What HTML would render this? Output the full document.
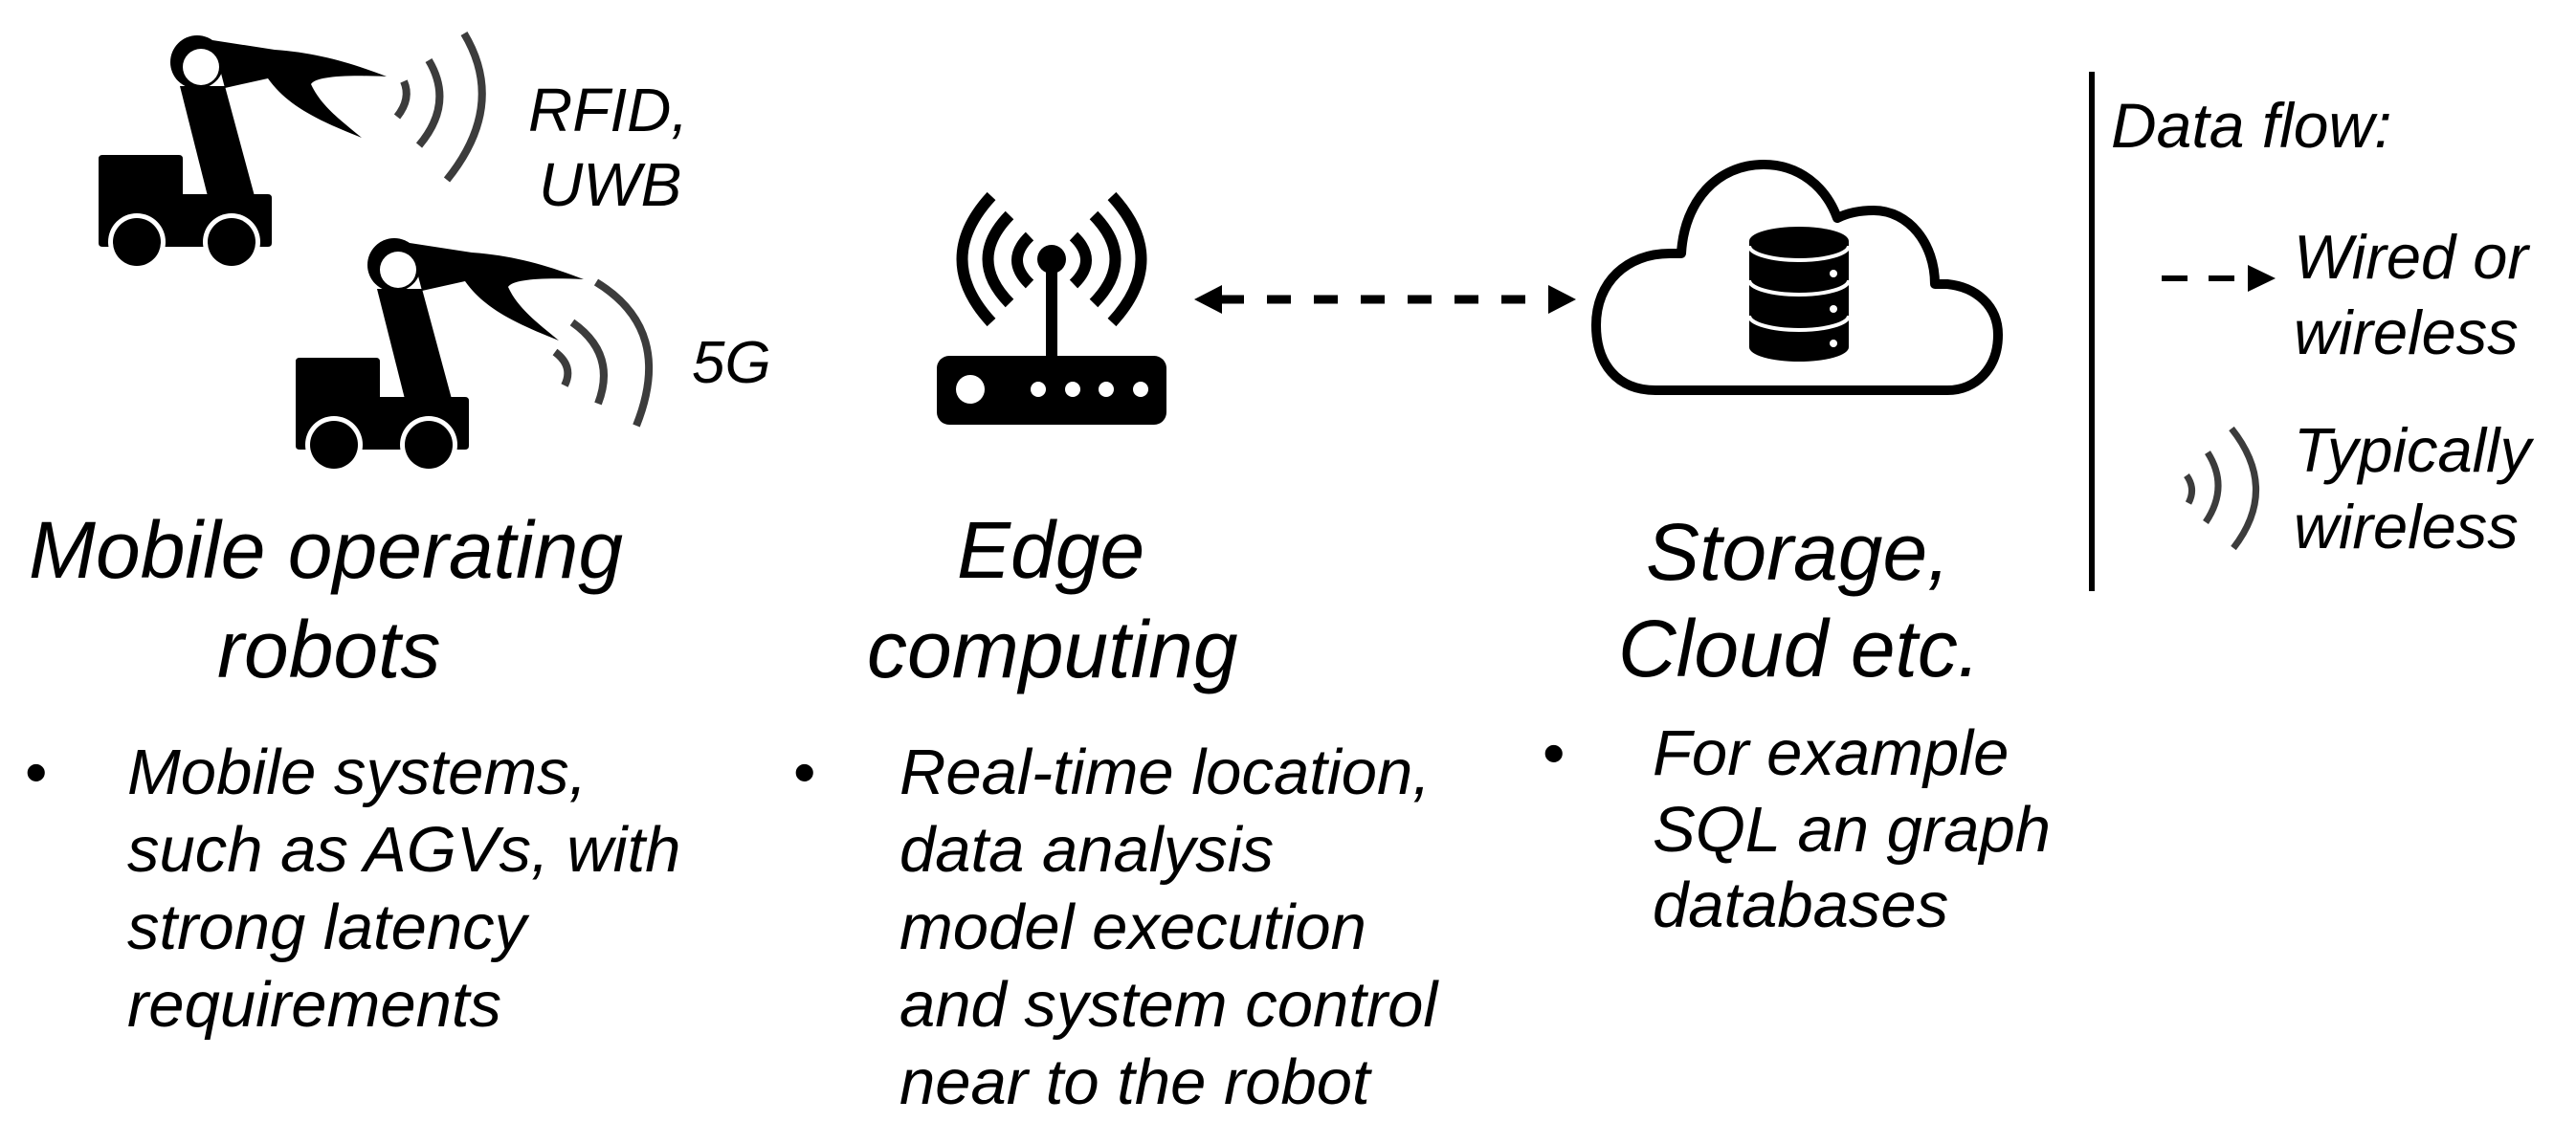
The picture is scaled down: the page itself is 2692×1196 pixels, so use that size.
<!DOCTYPE html>
<html><head><meta charset="utf-8">
<style>
html,body{margin:0;padding:0;background:#fff;}
svg{display:block;}
text{font-family:"Liberation Sans",Arial,sans-serif;font-style:italic;fill:#000;}
</style></head>
<body>
<svg width="2692" height="1196" viewBox="0 0 2692 1196" xmlns="http://www.w3.org/2000/svg">
<defs>
<g id="robot">
  <path d="M103,166 Q103,162 107,162 L187,162 Q191,162 191,166 L191,203 L280,203 Q284,203 284,207 L284,254 Q284,258 280,258 L107,258 Q103,258 103,254 Z" fill="#000"/>
  <circle cx="143" cy="253" r="30" fill="#fff"/>
  <circle cx="242" cy="253" r="30" fill="#fff"/>
  <circle cx="143" cy="253" r="25" fill="#000"/>
  <circle cx="242" cy="253" r="25" fill="#000"/>
  <polygon points="188,90 235,90 266,205 217,205" fill="#000"/>
  <path d="M222,42 L287,52 C330,55 365,65 404,80 C360,78 330,80 325,88 C335,110 355,125 378,144 C330,125 300,110 280,82 L235,92 Z" fill="#000"/>
  <circle cx="206" cy="65" r="28" fill="#000"/>
  <circle cx="210" cy="70" r="19" fill="#fff"/>
</g>
</defs>

<use href="#robot"/>
<use href="#robot" transform="translate(206,212)"/>

<g fill="none" stroke="#3c3c3c" stroke-width="8">
  <path d="M422,85 Q430,103 415,122"/>
  <path d="M448,63 Q475,108 438,152"/>
  <path d="M485,35 Q530,110 467,188"/>
  <path d="M580,368 Q600,383 590,403"/>
  <path d="M598,337 Q645,370 625,422"/>
  <path d="M623,295 Q705,345 665,445"/>
</g>
<text x="552" y="137" font-size="64">RFID,</text>
<text x="563" y="215" font-size="64">UWB</text>
<text x="723" y="400" font-size="62">5G</text>

<rect x="979" y="372" width="240" height="72" rx="13" fill="#000"/>
<circle cx="1014" cy="407" r="15" fill="#fff"/>
<circle cx="1085" cy="407" r="8" fill="#fff"/>
<circle cx="1121" cy="407" r="8" fill="#fff"/>
<circle cx="1156" cy="407" r="8" fill="#fff"/>
<circle cx="1192" cy="407" r="8" fill="#fff"/>
<rect x="1093" y="275" width="12" height="100" fill="#000"/>
<circle cx="1099" cy="271" r="15" fill="#000"/>
<g fill="none" stroke="#000" stroke-width="12">
  <path d="M1076,247 Q1050,272 1076,297"/>
  <path d="M1055,225 Q1010,271 1055,317"/>
  <path d="M1036,205 Q975,271 1036,337"/>
  <path d="M1122,247 Q1148,272 1122,297"/>
  <path d="M1143,225 Q1188,271 1143,317"/>
  <path d="M1162,205 Q1223,271 1162,337"/>
</g>

<line x1="1275" y1="313" x2="1620" y2="313" stroke="#000" stroke-width="9" stroke-dasharray="25,24"/>
<polygon points="1248,313 1277,298 1277,328" fill="#000"/>
<polygon points="1647,313 1618,298 1618,328" fill="#000"/>

<path d="M1730,408 C1690,408 1668,380 1668,340 C1668,295 1700,265 1745,265 L1757,265 C1760,210 1795,172 1843,172 C1880,172 1908,195 1920,228 C1932,222 1945,220 1958,220 C1995,220 2022,255 2022,297 L2035,297 C2065,300 2088,320 2088,350 C2088,385 2065,408 2035,408 Z" fill="#fff" stroke="#000" stroke-width="10" stroke-linejoin="round"/>
<path d="M1828,252 A52,15 0 0 1 1932,252 L1932,363 A52,15 0 0 1 1828,363 Z" fill="#000"/>
<g fill="none" stroke="#fff" stroke-width="4">
  <path d="M1828,257 A52,15 0 0 0 1932,257"/>
  <path d="M1828,293 A52,15 0 0 0 1932,293"/>
  <path d="M1828,330 A52,15 0 0 0 1932,330"/>
</g>
<circle cx="1916" cy="286" r="4" fill="#fff"/>
<circle cx="1916" cy="323" r="4" fill="#fff"/>
<circle cx="1916" cy="359" r="4" fill="#fff"/>

<rect x="2183" y="75" width="6" height="543" fill="#000"/>
<text x="2206" y="154" font-size="66">Data flow:</text>
<line x1="2259" y1="291" x2="2337" y2="291" stroke="#000" stroke-width="6" stroke-dasharray="27,22"/>
<polygon points="2349,277 2378,291 2349,305" fill="#000"/>
<text x="2397" y="291" font-size="65">Wired or</text>
<text x="2397" y="370" font-size="65">wireless</text>
<g fill="none" stroke="#3c3c3c" stroke-width="7">
  <path d="M2285,497 Q2295,511 2287,526"/>
  <path d="M2307,473 Q2330,509 2305,546"/>
  <path d="M2332,448 Q2382,511 2334,573"/>
</g>
<text x="2397" y="493" font-size="65">Typically</text>
<text x="2397" y="573" font-size="65">wireless</text>

<text x="30" y="604" font-size="84">Mobile operating</text>
<text x="227" y="708" font-size="84">robots</text>
<text x="1000" y="604" font-size="84">Edge</text>
<text x="906" y="708" font-size="84">computing</text>
<text x="1720" y="606" font-size="84">Storage,</text>
<text x="1691" y="707" font-size="84">Cloud etc.</text>

<g font-size="67">
  <text x="26" y="830" style="font-style:normal">•</text>
  <text x="133" y="830">Mobile systems,</text>
  <text x="133" y="911">such as AGVs, with</text>
  <text x="133" y="992">strong latency</text>
  <text x="133" y="1073">requirements</text>

  <text x="829" y="830" style="font-style:normal">•</text>
  <text x="940" y="830">Real-time location,</text>
  <text x="940" y="911">data analysis</text>
  <text x="940" y="992">model execution</text>
  <text x="940" y="1073">and system control</text>
  <text x="940" y="1154">near to the robot</text>

  <text x="1612" y="810" style="font-style:normal">•</text>
  <text x="1727" y="810">For example</text>
  <text x="1727" y="890">SQL an graph</text>
  <text x="1727" y="969">databases</text>
</g>
</svg>
</body></html>
